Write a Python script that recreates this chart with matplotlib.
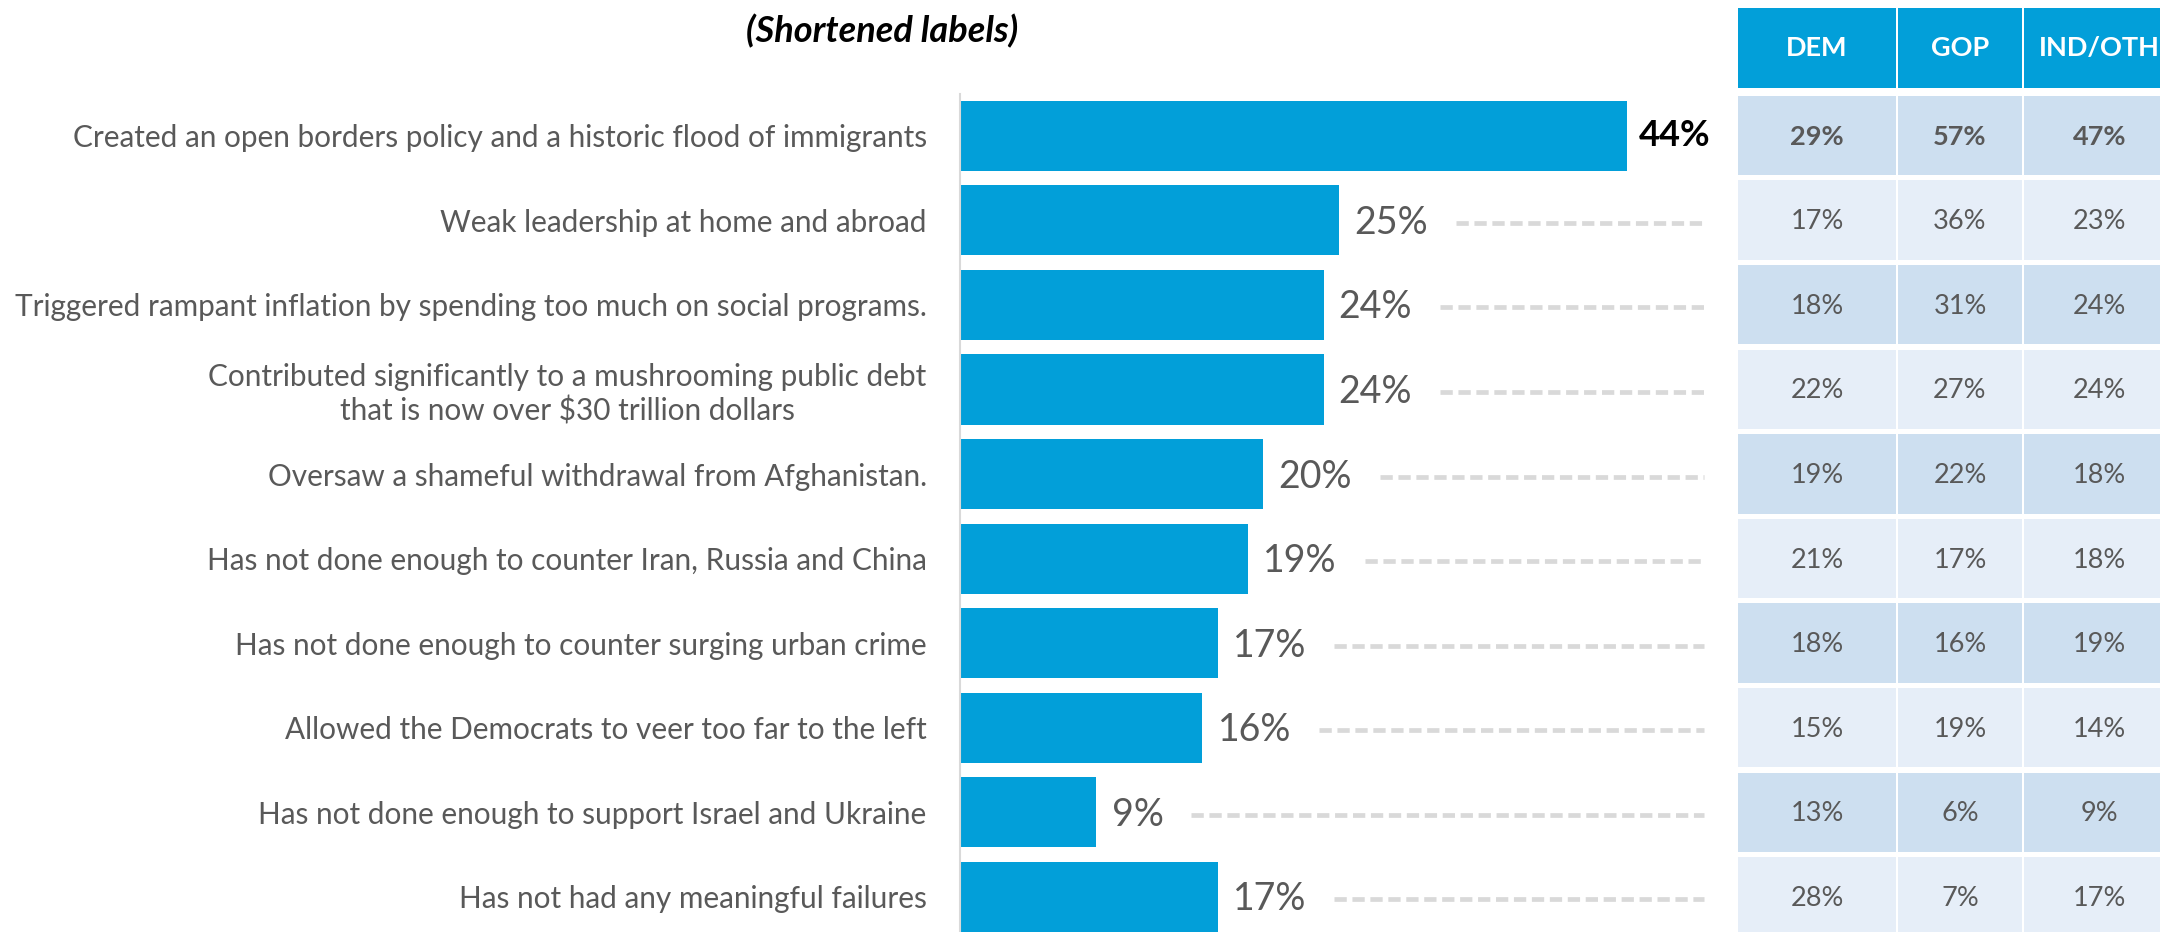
import matplotlib.pyplot as plt
from matplotlib.patches import Rectangle

plt.rcParams['font.family'] = ['Lato', 'DejaVu Sans']

# data
labels = [
    "Created an open borders policy and a historic flood of immigrants",
    "Weak leadership at home and abroad",
    "Triggered rampant inflation by spending too much on social programs.",
    "Contributed significantly to a mushrooming public debt\nthat is now over $30 trillion dollars",
    "Oversaw a shameful withdrawal from Afghanistan.",
    "Has not done enough to counter Iran, Russia and China",
    "Has not done enough to counter surging urban crime",
    "Allowed the Democrats to veer too far to the left",
    "Has not done enough to support Israel and Ukraine",
    "Has not had any meaningful failures",
]
total = [44, 25, 24, 24, 20, 19, 17, 16, 9, 17]
dem = [29, 17, 18, 22, 19, 21, 18, 15, 13, 28]
gop = [57, 36, 31, 27, 22, 17, 16, 19, 6, 7]
ind = [47, 23, 24, 24, 18, 18, 19, 14, 9, 17]
columns = ["DEM", "GOP", "IND/OTH"]

BLUE = '#029fd9'
GREY = '#595959'
W, H = 2160, 932
row0, pitch = 135.5, 84.6  # pixel centre of first row, row spacing
ytop = -row0 / pitch
ybot = (H - row0) / pitch

fig = plt.figure(figsize=(W / 100, H / 100), dpi=100)

# bar chart
ax = fig.add_axes([960 / W, 0, (1704 - 960) / W, 1 - 93.5 / H])
ax.barh(range(len(total)), total, height=0.83, color=BLUE)
ax.set_xlim(0, 744 / 15.15)
ax.set_ylim(ybot, -0.5)
for s in ['top', 'right', 'bottom']:
    ax.spines[s].set_visible(False)
ax.spines['left'].set_color('#d9d9d9')
ax.spines['left'].set_linewidth(1.5)
ax.set_xticks([])
ax.set_yticks(range(len(labels)))
ax.set_yticklabels(labels, fontsize=21.4, color=GREY, multialignment='center')
ax.tick_params(axis='y', length=0, pad=24)

txts = []
for i, v in enumerate(total):
    if i == 0:
        t = ax.text(v + 0.8, i, f"{v}%", va='center', ha='left', fontsize=26,
                    fontweight='bold', color='black')
    else:
        t = ax.text(v + 1.0, i + 0.03, f"{v}%", va='center', ha='left', fontsize=27,
                    color=GREY)
    txts.append(t)

fig.canvas.draw()
inv = ax.transData.inverted()
for i, t in enumerate(txts):
    if i == 0:
        continue
    bb = t.get_window_extent()
    x0 = inv.transform((bb.x1 + 28, 0))[0]
    ax.plot([x0, ax.get_xlim()[1]], [i + 0.03, i + 0.03], color='#d9d9d9', lw=3.4,
            dashes=(2.6, 1.2), solid_capstyle='butt', clip_on=False)

fig.text(882 / W, 1 - 31 / H, "(Shortened labels)", ha='center', va='center',
         fontsize=26, fontweight='bold', fontstyle='italic', color='black')

# table
tax = fig.add_axes([1736 / W, 0, (W - 1736) / W, 1])
tax.set_xlim(1736, W)
tax.set_ylim(ybot, ytop)
tax.axis('off')
edges = [1737, 1897, 2023, 2176]
hy0, hy1 = (8 - row0) / pitch, (88 - row0) / pitch
for c, name in enumerate(columns):
    x0, x1 = edges[c] + 1, edges[c + 1] - 1
    tax.add_patch(Rectangle((x0, hy0), x1 - x0, hy1 - hy0, color=BLUE, lw=0))
    tax.text((x0 + x1) / 2, (hy0 + hy1) / 2, name, ha='center', va='center',
             fontsize=19.5, fontweight='bold', color='white')
    vals = [dem, gop, ind][c]
    for i, v in enumerate(vals):
        fc = '#cddff0' if i % 2 == 0 else '#e6eef8'
        tax.add_patch(Rectangle((x0, i - 0.47), x1 - x0, 0.94, color=fc, lw=0))
        tax.text((x0 + x1) / 2, i + 0.02, f"{v}%", ha='center', va='center',
                 fontsize=19.5, color=GREY,
                 fontweight='bold' if i == 0 else 'normal')

fig.savefig('out.png', dpi=100)
